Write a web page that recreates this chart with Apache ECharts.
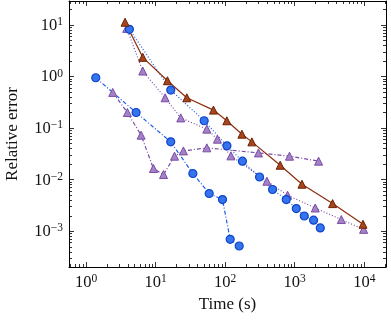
<!DOCTYPE html>
<html lang="en">
<head>
    <meta charset="UTF-8">
    <title>error vs time</title>
    <script src="https://cdn.jsdelivr.net/npm/echarts@6.0.0/dist/echarts.min.js"></script>
    <style>
        html, body {
            margin: 0;
            padding: 0;
            background: #fff;
        }
    </style>
</head>
<body>
<div id="main" style="width: 391px;height:321px;"></div>
<script>
    // log-log
    var brownTime = [3.64, 6.54, 14.8, 28.1, 67.9, 105.7, 174, 242, 618, 1270, 3500, 9580];
    var brownErr = [11.3, 2.36, 0.83, 0.388, 0.224, 0.139, 0.0763, 0.0542, 0.0191, 0.00818, 0.00344, 0.00137];

    var blueDotTime = [4.2, 16.5, 49.9, 106, 177, 312, 480, 755, 1052, 1371, 1866, 2330];
    var blueDotErr = [8.25, 0.547, 0.139, 0.0454, 0.0229, 0.0113, 0.00646, 0.00412, 0.00276, 0.00198, 0.00164, 0.00116];

    var purpleDotTime = [3.85, 6.54, 13.7, 23.0, 54.5, 77.4, 121, 398, 789, 1972, 4670, 9770];
    var purpleDotErr = [8.6, 1.28, 0.388, 0.158, 0.0957, 0.0611, 0.029, 0.00935, 0.005, 0.00283, 0.00169, 0.00109];

    var blueDashTime = [1.38, 5.24, 16.5, 34.3, 58.9, 91.5, 118, 159];
    var blueDashErr = [0.948, 0.201, 0.0542, 0.0132, 0.0054, 0.00412, 0.0007, 0.000519];

    var purpleDashTime = [2.42, 3.93, 6.19, 9.3, 13.0, 18.7, 25.1, 54.5, 301, 841, 2200];
    var purpleDashErr = [0.493, 0.201, 0.0731, 0.0165, 0.0126, 0.0286, 0.0362, 0.0415, 0.0331, 0.0286, 0.0229];

    var xMajor = [1, 10, 100, 1000, 10000];
    var yMajor = [0.001, 0.01, 0.1, 1, 10];

    var xMin = 0.569, xMax = 20500;
    var yMin = 0.000203, yMax = 29.2;

    function pairs(xs, ys) {
        var out = [];
        for (var i = 0; i < xs.length; i++) {
            out.push([xs[i], ys[i]]);
        }
        return out;
    }

    // 2..9 times each decade, inside the range
    function minorTicks(lo, hi) {
        var out = [];
        for (var e = Math.floor(Math.log10(lo)); e <= Math.ceil(Math.log10(hi)); e++) {
            for (var m = 2; m <= 9; m++) {
                var v = m * Math.pow(10, e);
                if (v >= lo && v <= hi) out.push(v);
            }
        }
        return out;
    }

    function powLabel(v) {
        var e = Math.round(Math.log10(v));
        var s = e < 0 ? '\u2212' + (-e) : '' + e;
        return '{b|10}{s|' + s + '}';
    }

    var font = '"Liberation Serif", "DejaVu Serif", serif';
    var rich = {
        b: {fontFamily: font, fontSize: 16.5, color: '#111', lineHeight: 18, verticalAlign: 'bottom'},
        s: {fontFamily: font, fontSize: 11.5, color: '#111', lineHeight: 10, verticalAlign: 'top'}
    };

    var gridBox = {left: 69, top: 1, width: 317, height: 266, outerBoundsMode: 'none', containLabel: false};

    function xAxisOf(gridIndex, pos, ticks, len, labels, line) {
        return {
            type: 'log',
            gridIndex: gridIndex,
            position: pos,
            min: xMin,
            max: xMax,
            name: labels ? 'Time (s)' : '',
            nameLocation: 'middle',
            nameGap: 29,
            nameTextStyle: {fontFamily: font, fontSize: 17, color: '#111'},
            axisLine: {show: line, lineStyle: {color: '#000', width: 1}},
            axisTick: {show: true, inside: true, length: len, customValues: ticks, lineStyle: {color: '#000', width: 0.8}},
            axisLabel: {show: labels, customValues: xMajor, margin: 6, formatter: powLabel, rich: rich},
            splitLine: {show: false}
        };
    }

    function yAxisOf(gridIndex, pos, ticks, len, labels, line) {
        return {
            type: 'log',
            gridIndex: gridIndex,
            position: pos,
            min: yMin,
            max: yMax,
            name: labels ? 'Relative error' : '',
            nameLocation: 'middle',
            nameGap: 48,
            nameTextStyle: {fontFamily: font, fontSize: 17, color: '#111'},
            axisLine: {show: line, lineStyle: {color: '#000', width: 1}},
            axisTick: {show: true, inside: true, length: len, customValues: ticks, lineStyle: {color: '#000', width: 0.8}},
            axisLabel: {show: labels, customValues: yMajor, margin: 6, formatter: powLabel, rich: rich},
            splitLine: {show: false}
        };
    }

    var xMinor = minorTicks(xMin, xMax);
    var yMinor = minorTicks(yMin, yMax);

    var dashDot = [4, 2, 1, 2];
    var dots = [1, 2];

    var brown = '#8c2e0b', blue = '#1c5fe6', purple = '#7a4ca6';

    function tri(color, fill) {
        return {symbol: 'triangle', symbolSize: 8, itemStyle: {color: fill, borderColor: color, borderWidth: 1}};
    }

    function circ() {
        return {symbol: 'circle', symbolSize: 8, itemStyle: {color: '#3574ec', borderColor: '#0e44cc', borderWidth: 1.2}};
    }

    function line(name, data, color, type, mark) {
        return {
            name: name,
            type: 'line',
            xAxisIndex: 0,
            yAxisIndex: 0,
            data: data,
            showAllSymbol: true,
            lineStyle: {color: color, width: 1.2, type: type},
            symbol: mark.symbol,
            symbolSize: mark.symbolSize,
            itemStyle: mark.itemStyle
        };
    }

    var chart = echarts.init(document.getElementById('main'));
    var option = {
        animation: false,
        backgroundColor: '#fff',
        grid: [gridBox, gridBox],
        xAxis: [
            xAxisOf(0, 'bottom', xMajor, 5, true, true),
            xAxisOf(0, 'top', xMajor, 5, false, true),
            xAxisOf(1, 'bottom', xMinor, 3, false, false),
            xAxisOf(1, 'top', xMinor, 3, false, false)
        ],
        yAxis: [
            yAxisOf(0, 'left', yMajor, 5, true, true),
            yAxisOf(0, 'right', yMajor, 5, false, true),
            yAxisOf(1, 'left', yMinor, 3, false, false),
            yAxisOf(1, 'right', yMinor, 3, false, false)
        ],
        series: [
            line('purple dash-dot', pairs(purpleDashTime, purpleDashErr), purple, dashDot, tri(purple, '#a383c6')),
            line('blue dash-dot', pairs(blueDashTime, blueDashErr), blue, dashDot, circ()),
            line('purple dotted', pairs(purpleDotTime, purpleDotErr), purple, dots, tri(purple, '#a383c6')),
            line('blue dotted', pairs(blueDotTime, blueDotErr), blue, dots, circ()),
            line('brown', pairs(brownTime, brownErr), brown, 'solid', tri('#6e2005', '#a5461c'))
        ]
    };
    chart.setOption(option);
</script>
</body>
</html>
